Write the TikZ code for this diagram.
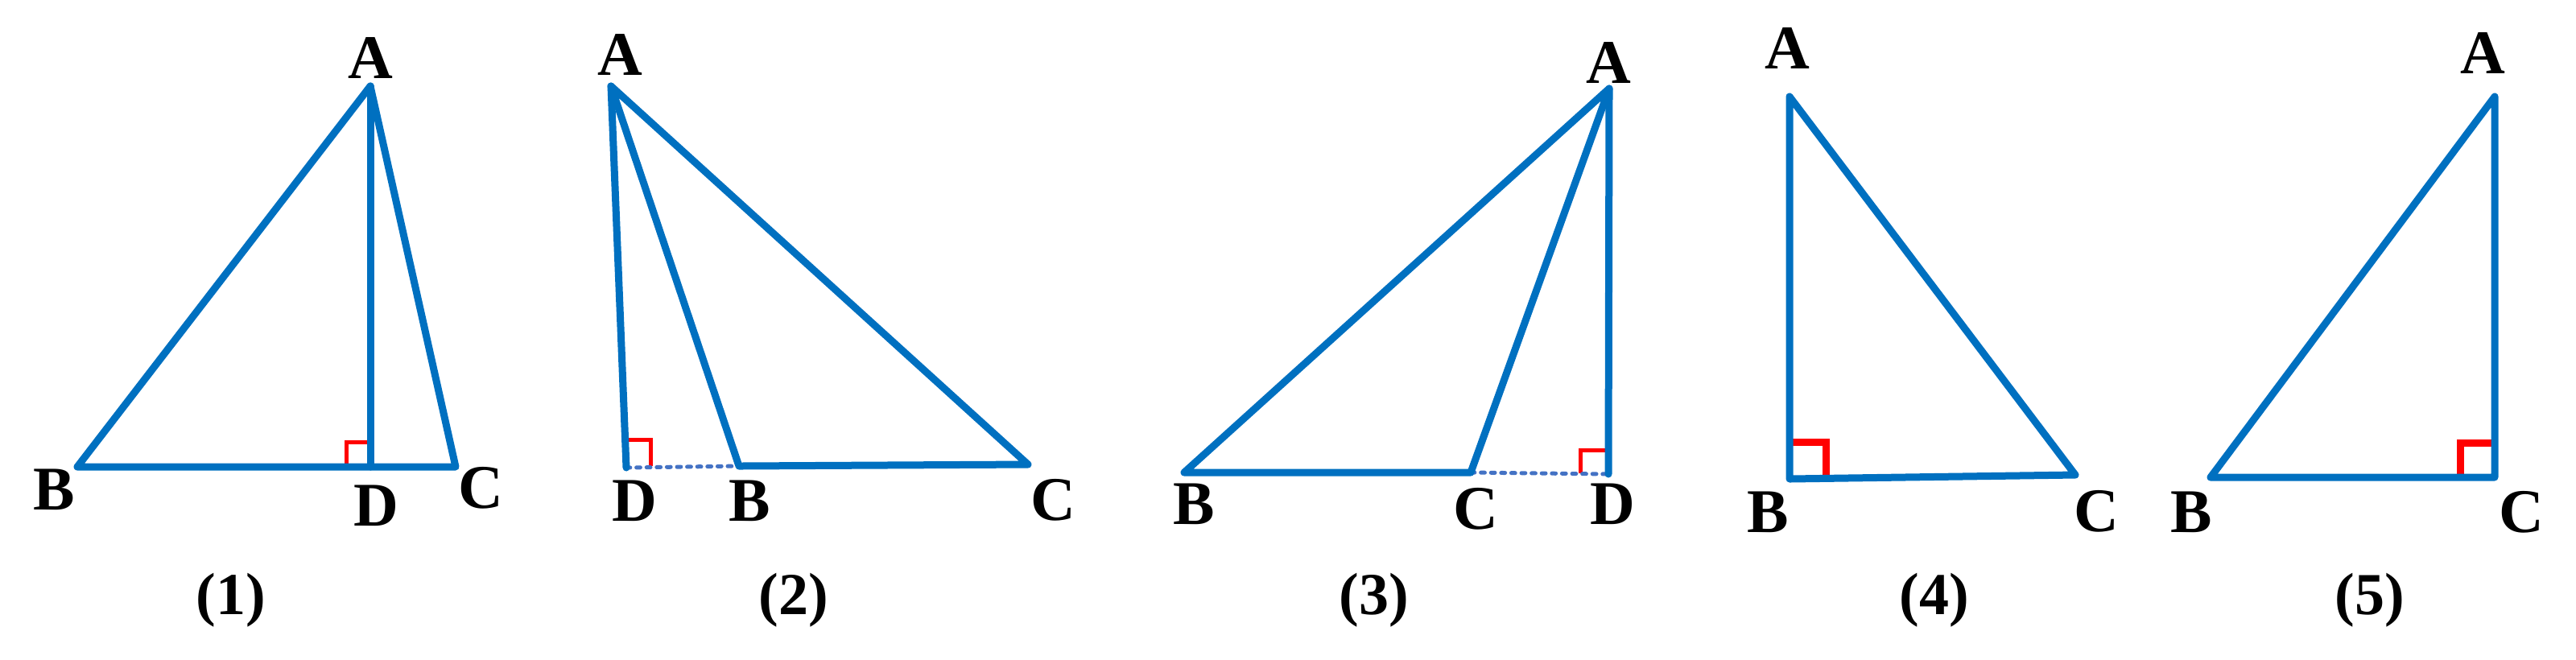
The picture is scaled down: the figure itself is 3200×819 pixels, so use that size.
\documentclass[tikz,border=0pt]{standalone}
\usepackage{fontspec}
\setmainfont{Liberation Serif}
\definecolor{lineblue}{HTML}{0070C0}
\definecolor{dotblue}{HTML}{4472C4}
\definecolor{markred}{HTML}{FF0000}
\begin{document}
\begin{tikzpicture}[x=0.25pt,y=-0.25pt,
  triside/.style={draw=lineblue,line width=2.25pt,line join=round,line cap=round},
  extline/.style={draw=dotblue,line width=1.25pt,line cap=round,dash pattern=on 1.2pt off 1.95pt},
  ramark/.style={draw=markred,line width=1.25pt},
  ramarkthick/.style={draw=markred,line width=2.25pt},
  ptlab/.style={inner sep=0pt,font=\fontsize{19.3}{23}\selectfont\bfseries},
  figcap/.style={inner sep=0pt,font=\fontsize{18.5}{22}\selectfont\bfseries}]
\useasboundingbox (0,0) rectangle (3200,819);
% ---------- figure 1
\coordinate (A1) at (460,107);
\coordinate (B1) at (96,580);
\coordinate (C1) at (566,580);
\coordinate (D1) at (460,580);
\draw[ramark] (430,580) -- (430,549) -- (460,549);
\draw[triside] (B1) -- (A1) -- (C1) -- cycle;
\draw[triside] (A1) -- (D1);
\node[ptlab] (lA1) at (460,72) {A};
\node[ptlab] (lB1) at (67,608) {B};
\node[ptlab] (lD1) at (467,628) {D};
\node[ptlab] (lC1) at (597,606) {C};
\node[figcap] (c1) at (287,746) {(1)};
% ---------- figure 2
\coordinate (A2) at (759,107);
\coordinate (D2) at (778,581);
\coordinate (B2) at (918,579);
\coordinate (C2) at (1277,577);
\draw[ramark] (808,579) -- (808,546) -- (777,546);
\draw[extline] (D2) -- (B2);
\draw[triside] (A2) -- (D2);
\draw[triside] (A2) -- (B2) -- (C2) -- cycle;
\node[ptlab] (lA2) at (770,68) {A};
\node[ptlab] (lD2) at (788,622) {D};
\node[ptlab] (lB2) at (931,622) {B};
\node[ptlab] (lC2) at (1308,621) {C};
\node[figcap] (c2) at (986,746) {(2)};
% ---------- figure 3
\coordinate (A3) at (1999,110);
\coordinate (B3) at (1471,587);
\coordinate (C3) at (1827,587);
\coordinate (D3) at (1998,589);
\draw[ramark] (1963,588) -- (1963,559) -- (1998,559);
\draw[extline] (C3) -- (D3);
\draw[triside] (B3) -- (A3) -- (C3) -- cycle;
\draw[triside] (A3) -- (D3);
\node[ptlab] (lA3) at (1998,78) {A};
\node[ptlab] (lB3) at (1483,626) {B};
\node[ptlab] (lC3) at (1833,632) {C};
\node[ptlab] (lD3) at (2003,626) {D};
\node[figcap] (c3) at (1707,746) {(3)};
% ---------- figure 4
\coordinate (A4) at (2223,120);
\coordinate (B4) at (2223,595);
\coordinate (C4) at (2578,590);
\draw[ramarkthick] (2268,594) -- (2268,549) -- (2223,549);
\draw[triside] (A4) -- (B4) -- (C4) -- cycle;
\node[ptlab] (lA4) at (2220,60) {A};
\node[ptlab] (lB4) at (2196,636) {B};
\node[ptlab] (lC4) at (2604,635) {C};
\node[figcap] (c4) at (2403,746) {(4)};
% ---------- figure 5
\coordinate (A5) at (3099,120);
\coordinate (B5) at (2746,593);
\coordinate (C5) at (3099,593);
\draw[ramarkthick] (3056,593) -- (3056,550) -- (3099,550);
\draw[triside] (A5) -- (B5) -- (C5) -- cycle;
\node[ptlab] (lA5) at (3084,66) {A};
\node[ptlab] (lB5) at (2722,636) {B};
\node[ptlab] (lC5) at (3132,636) {C};
\node[figcap] (c5) at (2944,746) {(5)};
\end{tikzpicture}
\end{document}
